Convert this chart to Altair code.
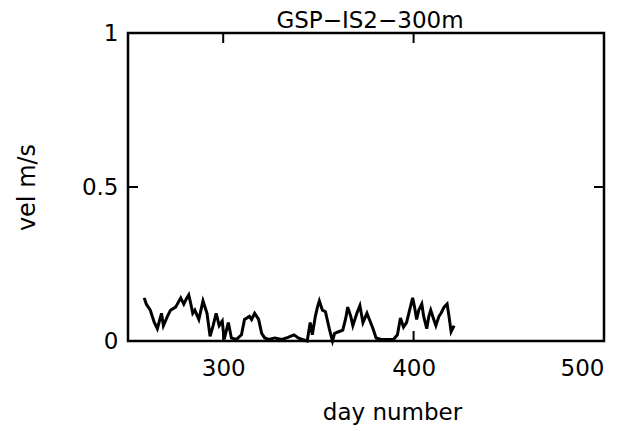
import altair as alt
import pandas as pd

TITLE = "GSP−IS2−300m"

# traced series (day number, velocity m/s)
days = [258.5, 259.6, 261.7, 263.8, 265.4, 267.6, 268.6, 270.7, 272.3, 275.0,
        277.7, 279.3, 280.9, 281.9, 283.0, 284.0, 285.1, 287.2, 289.4, 291.5,
        293.1, 294.7, 296.3, 297.9, 299.5, 300.5, 302.7, 304.3, 306.9, 309.6,
        311.2, 313.8, 314.9, 316.5, 318.6, 320.2, 321.8, 323.9, 327.1, 330.9,
        334.0, 337.2, 339.4, 341.5, 344.1, 345.7, 346.8, 348.4, 349.5, 350.5,
        352.1, 353.7, 355.9, 357.4, 358.5, 360.6, 362.8, 364.4, 365.4, 367.0,
        368.1, 370.2, 371.8, 373.4, 375.5, 377.1, 378.7, 380.3, 383.0, 385.6,
        389.4, 391.5, 393.1, 394.7, 396.3, 397.9, 399.5, 400.5, 401.6, 402.7,
        404.3, 405.3, 406.9, 408.0, 409.0, 410.6, 411.7, 413.3, 414.4, 416.0,
        417.6, 418.6, 419.7, 421.3]
vel = [0.14, 0.12, 0.10, 0.06, 0.04, 0.09, 0.05, 0.08, 0.10, 0.11,
       0.14, 0.12, 0.14, 0.15, 0.12, 0.09, 0.10, 0.07, 0.13, 0.09,
       0.015, 0.05, 0.09, 0.05, 0.065, 0.005, 0.06, 0.01, 0.005, 0.02,
       0.07, 0.08, 0.07, 0.09, 0.07, 0.025, 0.01, 0.005, 0.01, 0.005,
       0.012, 0.02, 0.01, 0.005, 0.0, 0.06, 0.02, 0.08, 0.11, 0.13,
       0.10, 0.095, 0.035, 0.0, 0.025, 0.03, 0.035, 0.075, 0.11, 0.08,
       0.05, 0.09, 0.115, 0.06, 0.09, 0.065, 0.04, 0.01, 0.005, 0.005,
       0.005, 0.02, 0.075, 0.045, 0.06, 0.10, 0.14, 0.11, 0.07, 0.10,
       0.12, 0.08, 0.04, 0.08, 0.10, 0.07, 0.05, 0.08, 0.09, 0.11,
       0.12, 0.08, 0.03, 0.05]

x_ticks = [300, 400, 500]
y_ticks = [0, 0.5, 1]
inner_x_ticks = [300, 400]
inner_y_ticks = [0.5]

FONT = "DejaVu Sans"

df = pd.DataFrame({"day": days, "vel": vel})
xscale = alt.Scale(domain=[250, 500], nice=False, zero=False)
yscale = alt.Scale(domain=[0, 1], nice=False, zero=False)

line = alt.Chart(df).mark_line(color="black", strokeWidth=3).encode(
    x=alt.X("day:Q", scale=xscale,
            axis=alt.Axis(values=x_ticks, title="day number", ticks=False,
                          domain=False, grid=False, labelPadding=16,
                          labelFontSize=23, labelFont=FONT, labelColor="black",
                          titleFont=FONT, titleFontSize=23, titleFontWeight="normal",
                          titleColor="black", titleX=264, titleY=71,
                          titleBaseline="middle")),
    y=alt.Y("vel:Q", scale=yscale,
            axis=alt.Axis(values=y_ticks, title="vel m/s", ticks=False, format="~g",
                          domain=False, grid=False, labelPadding=10,
                          labelFontSize=23, labelFont=FONT, labelColor="black",
                          titleFont=FONT, titleFontSize=24, titleFontWeight="normal",
                          titleColor="black", titlePadding=42)),
)

# inward ticks on top and bottom
xt = pd.DataFrame({"t": inner_x_ticks})
top_ticks = alt.Chart(xt).mark_rule(color="black", strokeWidth=2).encode(
    x=alt.X("t:Q", scale=xscale), y=alt.value(0), y2=alt.value(10))
bot_ticks = alt.Chart(xt).mark_rule(color="black", strokeWidth=2).encode(
    x=alt.X("t:Q", scale=xscale), y=alt.value(298), y2=alt.value(308))

yt = pd.DataFrame({"t": inner_y_ticks})
left_ticks = alt.Chart(yt).mark_rule(color="black", strokeWidth=2).encode(
    y=alt.Y("t:Q", scale=yscale), x=alt.value(0), x2=alt.value(10))
right_ticks = alt.Chart(yt).mark_rule(color="black", strokeWidth=2).encode(
    y=alt.Y("t:Q", scale=yscale), x=alt.value(466), x2=alt.value(476))

title_text = alt.Chart(pd.DataFrame({"label": [TITLE]})).mark_text(
    font=FONT, fontSize=23, color="black", align="center", baseline="alphabetic"
).encode(text="label:N", x=alt.value(242), y=alt.value(-5))

chart = alt.layer(line, top_ticks, bot_ticks, left_ticks, right_ticks,
                  title_text).properties(
    width=476, height=308,
    autosize=alt.AutoSizeParams(type="none"),
    padding={"left": 120, "top": 25, "right": 14, "bottom": 99},
).configure_view(stroke="black", strokeWidth=2.5)

chart.save("out.html", embed_options={"renderer": "svg", "actions": False})
